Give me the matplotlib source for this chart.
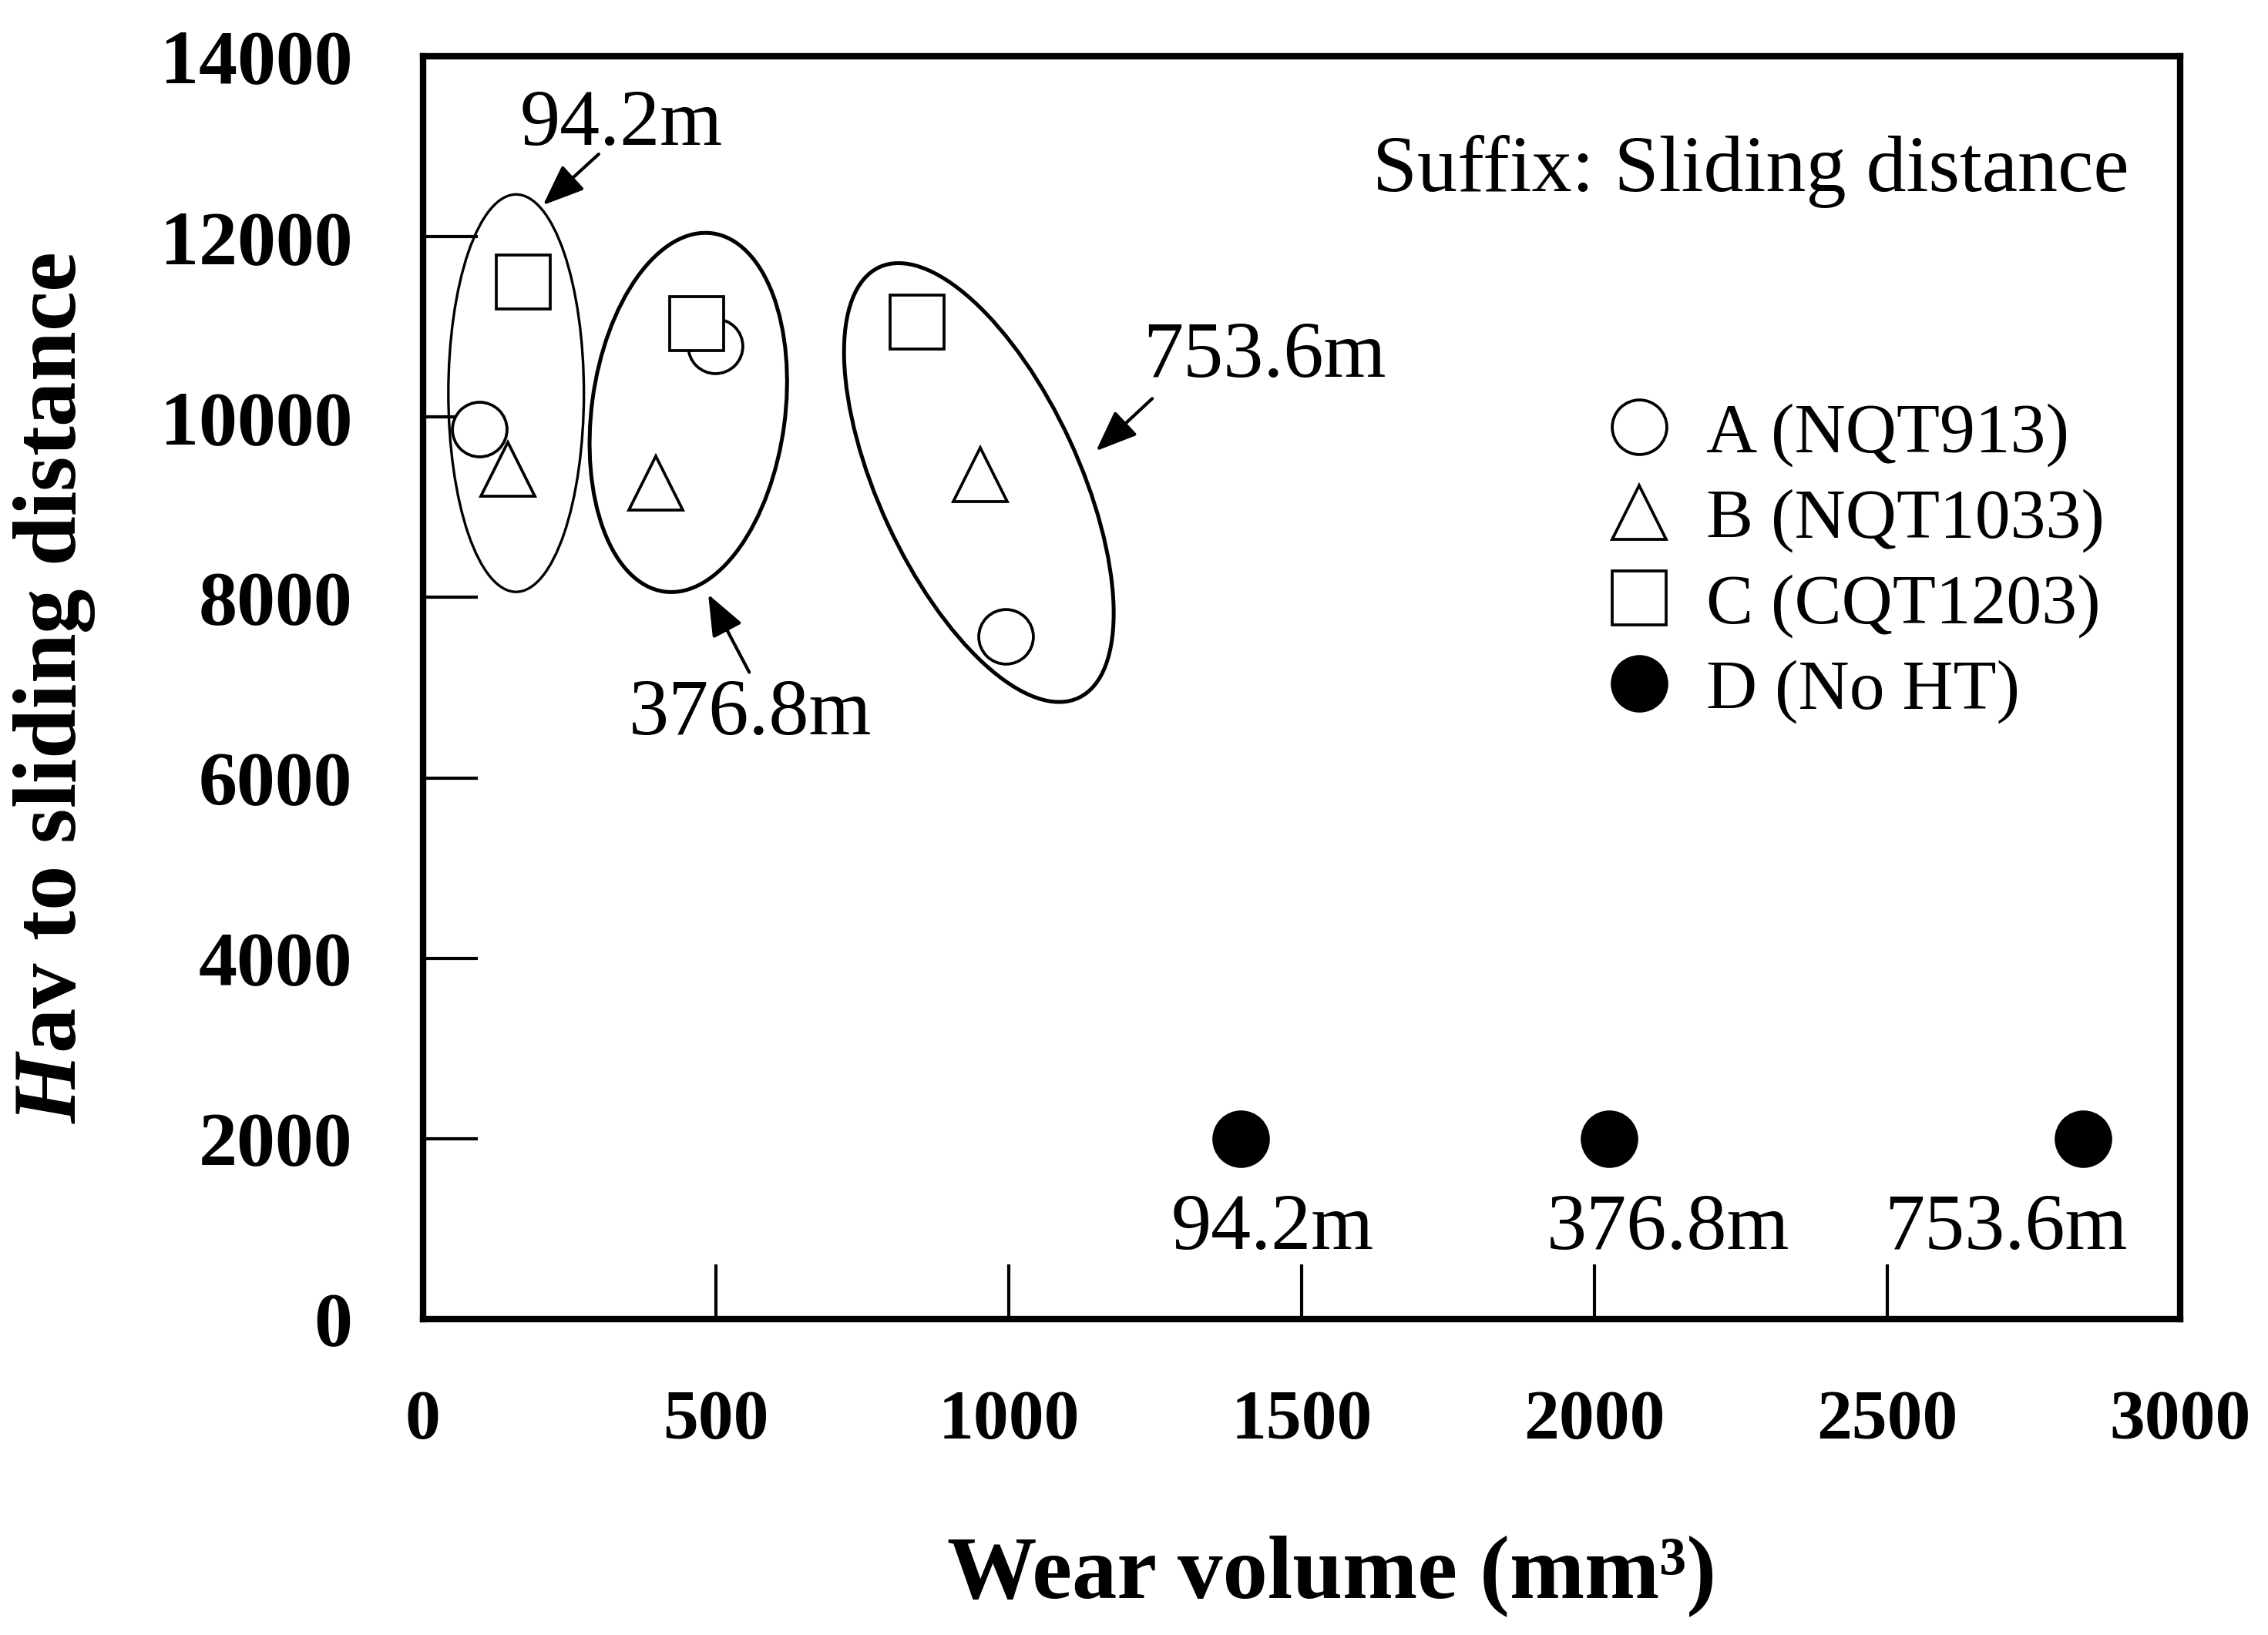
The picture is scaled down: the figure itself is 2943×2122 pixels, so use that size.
import matplotlib
matplotlib.use("Agg")
import matplotlib.pyplot as plt
from matplotlib.patches import Ellipse
from matplotlib.transforms import ScaledTranslation

plt.rcParams['font.family'] = ['Liberation Serif', 'DejaVu Serif']
plt.rcParams['mathtext.fontset'] = 'custom'
plt.rcParams['mathtext.it'] = 'Liberation Serif:style=italic:weight=bold'
plt.rcParams['mathtext.rm'] = 'Liberation Serif:weight=bold'

# wear volume (mm3) / Hav to sliding distance, order: 94.2m, 376.8m, 753.6m
a_x = [96, 499, 995]
a_y = [9870, 10790, 7570]
b_x = [145, 397, 951]
b_y = [9420, 9270, 9360]
c_x = [171, 467, 843]
c_y = [11500, 11040, 11050]
d_x = [1396, 2025, 2834]
d_y = [2000, 2000, 2000]

labels = ['A (NQT913)', 'B (NQT1033)', 'C (CQT1203)', 'D (No HT)']
distances = ['94.2m', '376.8m', '753.6m']

# group ellipses: centre (data), width/height (pt), angle (deg)
ell_centre = [(159, 10265), (453, 10051), (949, 9274)]
ell_size = [(42.2, 123.8), (60.2, 112.6), (62.4, 147.8)]
ell_angle = [0, -7.6, 24.8]
ell_lw = [0.8, 1.2, 1.2]

# arrows (tail -> tip) and group labels
arrow_tail = [(300, 12915), (557, 7171), (1245, 10205)]
arrow_tip = [(205, 12350), (487, 8034), (1149, 9624)]
group_text = [(339, 13017), (559, 6487), (1437, 10444)]
d_text = [(1450, 778), (2125, 778), (2703, 778)]

fig = plt.figure(figsize=(2943 / 300, 2122 / 300), dpi=300)
ax = fig.add_axes([0.1865, 0.1932, 0.9613 - 0.1865, 0.9656 - 0.1932])
ax.set_xlim(0, 3000)
ax.set_ylim(0, 14000)

ms = 17
mew = 0.9
ax.plot(a_x, a_y, 'o', ms=ms, mfc='white', mec='black', mew=mew, label=labels[0], zorder=3)
ax.plot(b_x, b_y, '^', ms=ms, mfc='white', mec='black', mew=mew, label=labels[1], zorder=3)
ax.plot(c_x, c_y, 's', ms=ms, mfc='white', mec='black', mew=mew, label=labels[2], zorder=4)
ax.plot(d_x, d_y, 'o', ms=ms, mfc='black', mec='black', mew=mew, label=labels[3], zorder=3)

for (cx, cy), (w, h), ang, lw in zip(ell_centre, ell_size, ell_angle, ell_lw):
    tr = fig.dpi_scale_trans + ScaledTranslation(cx, cy, ax.transData)
    ax.add_patch(Ellipse((0, 0), w / 72, h / 72, angle=ang, transform=tr,
                         fill=False, ec='black', lw=lw, zorder=2))

for tail, tip, pos, s in zip(arrow_tail, arrow_tip, group_text, distances):
    ax.annotate('', xy=tip, xytext=tail,
                arrowprops=dict(arrowstyle='-|>,head_length=0.55,head_width=0.22',
                                color='black', lw=1.0, shrinkA=0, shrinkB=0,
                                mutation_scale=20))
    ax.text(pos[0], pos[1], s, fontsize=25, ha='center', va='baseline')

for pos, s in zip(d_text, distances):
    ax.text(pos[0], pos[1], s, fontsize=25, ha='center', va='baseline')

ax.text(0.971, 0.893, 'Suffix: Sliding distance', transform=ax.transAxes,
        fontsize=25, ha='right', va='baseline')

ax.legend(loc='upper left', bbox_to_anchor=(0.672, 0.726), frameon=False,
          fontsize=22, handlelength=1.0, handletextpad=0.45, labelspacing=0.30,
          borderpad=0, borderaxespad=0, numpoints=1)

ax.set_xticks(range(0, 3001, 500))
ax.set_yticks(range(0, 14001, 2000))
ax.tick_params(direction='in', length=17, width=1.0, top=False, right=False)
ax.tick_params(axis='y', pad=22, labelsize=24)
ax.tick_params(axis='x', pad=22, labelsize=22)
for t in ax.get_xticklabels() + ax.get_yticklabels():
    t.set_fontweight('bold')
for sp in ax.spines.values():
    sp.set_linewidth(2.0)

ax.set_xlabel('Wear volume (mm³)', fontsize=28, fontweight='bold')
ax.set_ylabel(r'$\mathit{H}$av to sliding distance', fontsize=28, fontweight='bold')
ax.xaxis.set_label_coords(0.517, -0.171)
ax.yaxis.set_label_coords(-0.1855, 0.5)

fig.savefig('out.png', dpi=300)
